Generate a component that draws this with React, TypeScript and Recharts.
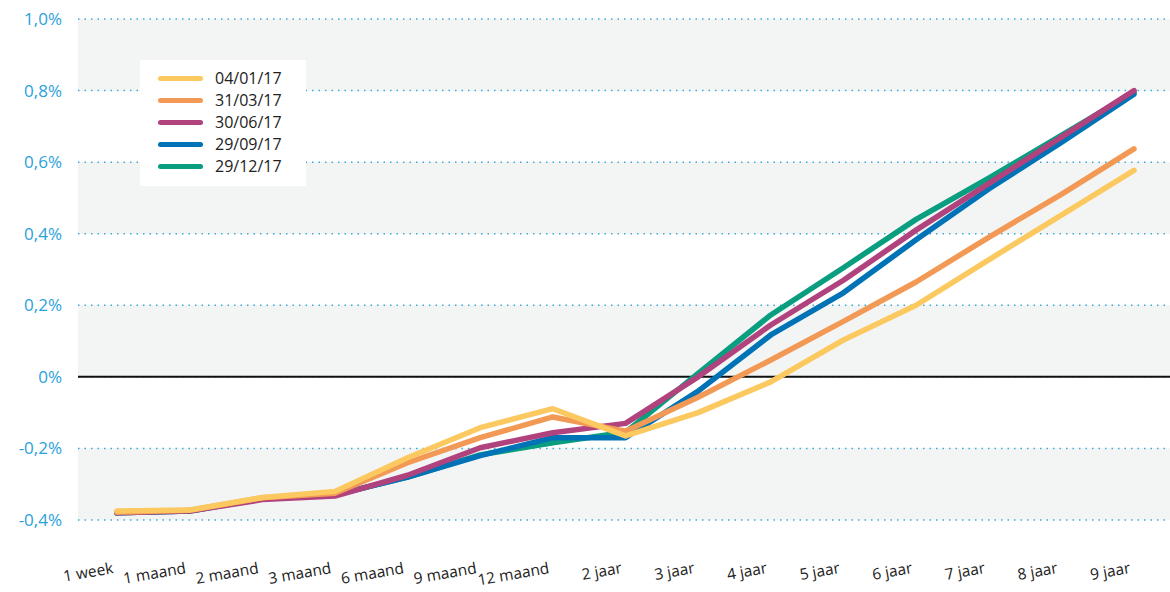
import React from 'react';
import {
  LineChart,
  Line,
  XAxis,
  YAxis,
  CartesianGrid,
  ReferenceLine,
} from 'recharts';

// Looptijden (x-as)
const maturities = [
  '1 week', '1 maand', '2 maand', '3 maand', '6 maand', '9 maand', '12 maand',
  '2 jaar', '3 jaar', '4 jaar', '5 jaar', '6 jaar', '7 jaar', '8 jaar', '9 jaar',
];

// Rentes in %
const d040117 = [-0.375, -0.372, -0.337, -0.32, -0.226, -0.142, -0.089, -0.165, -0.1, -0.014, 0.103, 0.2, 0.327, 0.452, 0.577];
const d310317 = [-0.378, -0.373, -0.338, -0.325, -0.24, -0.17, -0.112, -0.152, -0.057, 0.047, 0.155, 0.265, 0.39, 0.51, 0.637];
const d300617 = [-0.38, -0.375, -0.343, -0.333, -0.275, -0.198, -0.156, -0.13, 0.0, 0.145, 0.27, 0.41, 0.54, 0.67, 0.8];
const d290917 = [-0.38, -0.375, -0.34, -0.33, -0.28, -0.22, -0.17, -0.17, -0.04, 0.117, 0.235, 0.383, 0.525, 0.655, 0.79];
const d291217 = [-0.38, -0.375, -0.34, -0.33, -0.28, -0.218, -0.184, -0.155, 0.01, 0.173, 0.305, 0.44, 0.555, 0.675, 0.795];

const yTicks = [-0.4, -0.2, 0, 0.2, 0.4, 0.6, 0.8, 1.0];
const yTickLabels = ['-0,4%', '-0,2%', '0%', '0,2%', '0,4%', '0,6%', '0,8%', '1,0%'];

// legend order (top to bottom)
const series = [
  { key: 'd040117', name: '04/01/17', color: '#fbc960', values: d040117 },
  { key: 'd310317', name: '31/03/17', color: '#f29a55', values: d310317 },
  { key: 'd300617', name: '30/06/17', color: '#b0427e', values: d300617 },
  { key: 'd290917', name: '29/09/17', color: '#0073b6', values: d290917 },
  { key: 'd291217', name: '29/12/17', color: '#0a9e80', values: d291217 },
];

const chartData = maturities.map((m, i) => {
  const row: Record<string, string | number> = { maturity: m };
  series.forEach((s) => {
    row[s.key] = s.values[i];
  });
  return row;
});

const FONT = '"Open Sans", sans-serif';

function XTick(props: any) {
  const { x, y, payload } = props;
  return (
    <g transform={`translate(${x - 3},${y + 53})`}>
      <text
        x={0}
        y={0}
        textAnchor="end"
        transform="rotate(-10)"
        fill="#222"
        fontSize={15.5}
        fontFamily={FONT}
      >
        {payload.value}
      </text>
    </g>
  );
}

function LegendBox() {
  return (
    <div
      style={{
        position: 'absolute',
        left: 140,
        top: 60,
        background: '#fff',
        width: 166,
        height: 126,
        boxSizing: 'border-box',
        padding: '7px 0 0 18px',
        fontFamily: FONT,
      }}
    >
      {series.map((s) => (
        <div
          key={s.key}
          style={{ display: 'flex', alignItems: 'center', height: 22 }}
        >
          <span
            style={{
              display: 'inline-block',
              width: 45,
              height: 5,
              borderRadius: 3,
              background: s.color,
              marginRight: 12,
            }}
          />
          <span style={{ fontSize: 16, color: '#222', lineHeight: '22px' }}>
            {s.name}
          </span>
        </div>
      ))}
    </div>
  );
}

export default function App() {
  const drawOrder = [...series].reverse();
  return (
    <div style={{ position: 'absolute', left: 0, top: 0, width: 1170, height: 592, background: '#fff' }}>
      <LineChart
        width={1170}
        height={592}
        data={chartData}
        margin={{ top: 19, right: 0, left: 0, bottom: 0 }}
      >
        <CartesianGrid
          vertical={false}
          stroke="none"
          horizontalFill={['#f3f5f5', '#ffffff']}
          fillOpacity={1}
        />
        <ReferenceLine y={0} stroke="#111" strokeWidth={2} />
        <CartesianGrid
          vertical={false}
          stroke="#3aa9dc"
          strokeWidth={1.5}
          strokeDasharray="1.5 5"
        />
        <XAxis
          dataKey="maturity"
          axisLine={false}
          tickLine={false}
          tickSize={0}
          tickMargin={0}
          height={72}
          interval={0}
          padding={{ left: 39, right: 36 }}
          tick={<XTick />}
        />
        <YAxis
          type="number"
          domain={[-0.4, 1.0]}
          ticks={yTicks}
          tickFormatter={(v: number) => yTickLabels[yTicks.indexOf(v)] ?? ''}
          axisLine={false}
          tickLine={false}
          tickSize={0}
          tickMargin={16}
          width={78}
          tick={{ fill: '#2aa2da', fontSize: 17, fontFamily: FONT }}
        />
        {drawOrder.map((s) => (
          <Line
            key={s.key}
            type="linear"
            dataKey={s.key}
            name={s.name}
            stroke={s.color}
            strokeWidth={5.5}
            strokeLinecap="round"
            strokeLinejoin="round"
            dot={false}
            activeDot={false}
            isAnimationActive={false}
          />
        ))}
      </LineChart>
      <LegendBox />
    </div>
  );
}
